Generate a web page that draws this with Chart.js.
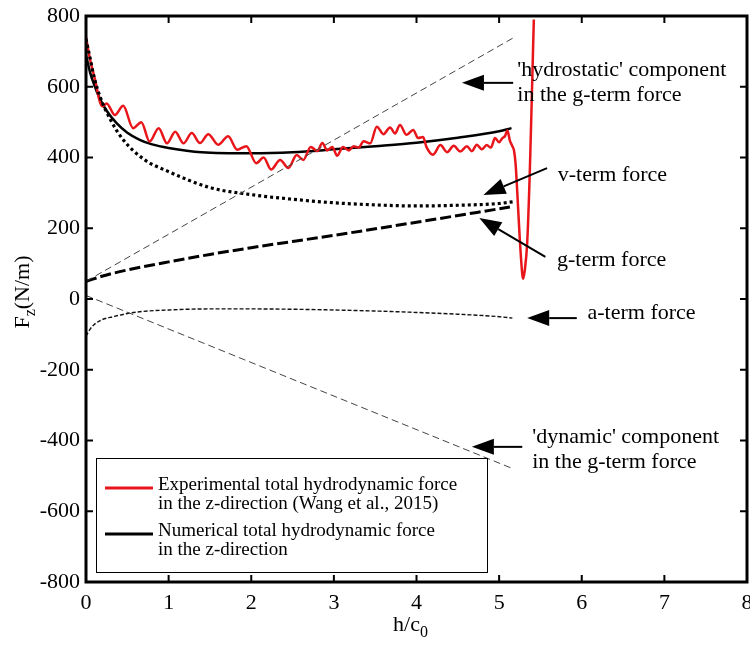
<!DOCTYPE html>
<html><head><meta charset="utf-8">
<script src="https://cdn.jsdelivr.net/npm/chart.js@4/dist/chart.umd.min.js"></script>
<style>html,body{margin:0;padding:0;background:#fff}canvas{display:block}</style>
</head><body>
<canvas id="c" width="750" height="645"></canvas>
<script>
// ---- data ----
const xTicks = [0,1,2,3,4,5,6,7,8];
const yTicks = [-800,-600,-400,-200,0,200,400,600,800];

const experimentalX = [0,0.05,0.11,0.17,0.2,0.25,0.35,0.45,0.57,0.67,0.77,0.88,0.98,1.08,1.18,1.28,1.38,1.48,1.6,1.72,1.83,1.94,2.06,2.15,2.24,2.35,2.45,2.55,2.63,2.72,2.8,2.86,2.92,2.98,3.04,3.11,3.18,3.24,3.3,3.36,3.44,3.52,3.6,3.68,3.74,3.8,3.88,3.96,4.02,4.08,4.12,4.2,4.29,4.37,4.45,4.53,4.61,4.67,4.73,4.79,4.85,4.9,4.95,5.0,5.04,5.07,5.1,5.13,5.16,5.18,5.2,5.22,5.25,5.28,5.29,5.31,5.34,5.37,5.39,5.41,5.42];
const experimentalY = [740,676,619,556,545,553,520,546,483,500,445,483,440,473,440,469,441,466,436,460,422,432,384,400,366,393,370,407,393,430,418,441,420,430,405,430,420,432,428,446,440,487,466,485,468,492,464,478,455,458,430,408,435,415,433,417,432,418,436,423,435,428,455,443,455,460,476,448,432,420,380,300,170,70,57,80,160,350,520,700,790];

const numericalX = [0,0.05,0.1,0.17,0.25,0.37,0.5,0.65,0.8,1,1.4,2,2.5,3,3.5,4,4.5,5,5.15];
const numericalY = [690,640,605,565,532,497,470,450,437,427,415,412,415,423,432,442,456,474,483];

const vTermX = [0,0.05,0.1,0.17,0.3,0.45,0.7,1,1.5,2,2.5,3,3.5,4,4.5,5,5.17];
const vTermY = [735,680,625,572,505,450,395,360,315,295,282,272,266,263,265,270,275];

const gTermX = [0,0.25,0.5,1,1.5,2,3,4,5.13];
const gTermY = [50,68,82,105,126,145,180,217,260];

const aTermX = [0,0.05,0.1,0.2,0.33,0.5,0.65,1,1.5,2,2.5,3,3.5,4,4.5,5,5.16];
const aTermY = [-105,-85,-72,-58,-50,-41,-36,-31,-28,-28,-29,-31,-34,-38,-43,-50,-54];

const hydrostaticX = [0,5.17];
const hydrostaticY = [50,738];
const dynamicX = [0,5.17];
const dynamicY = [10,-480];

const legendLabels = [
  ["Experimental total hydrodynamic force","in the z-direction (Wang et al., 2015)"],
  ["Numerical total hydrodynamic force","in the z-direction"]
];
const notes = [
  {lines:["'hydrostatic' component","in the g-term force"], text:[5.22,647], tail:[5.17,611], tip:[4.55,611]},
  {lines:["v-term force"], text:[5.71,351], tail:[5.58,370], tip:[4.81,294]},
  {lines:["g-term force"], text:[5.70,110], tail:[5.56,119], tip:[4.76,229]},
  {lines:["a-term force"], text:[6.07,-40], tail:[5.94,-54], tip:[5.34,-54]},
  {lines:["'dynamic' component","in the g-term force"], text:[5.40,-390], tail:[5.28,-418], tip:[4.67,-418]}
];

const pts = (xs, ys) => xs.map((x,i)=>({x:x, y:ys[i]}));
const SERIF = "'Liberation Serif','Times New Roman',serif";
const RED = '#e8161b';

function ds(label, xs, ys, color, width, dash) {
  return {label, data: pts(xs,ys), borderColor: color, borderWidth: width, borderDash: dash||[],
    pointRadius: 0, fill:false, cubicInterpolationMode:'monotone', borderCapStyle:'butt'};
}

const overlay = {
  id:'overlay',
  afterDraw(chart){
    const ctx = chart.ctx, a = chart.chartArea, xs = chart.scales.x, ys = chart.scales.y;
    ctx.save();
    // box
    ctx.strokeStyle='#000'; ctx.lineWidth=3;
    ctx.strokeRect(a.left, a.top, a.right-a.left, a.bottom-a.top);
    // inward ticks
    ctx.lineWidth=2;
    ctx.beginPath();
    xTicks.slice(1,-1).forEach(v=>{const p=xs.getPixelForValue(v);
      ctx.moveTo(p,a.bottom); ctx.lineTo(p,a.bottom-7); ctx.moveTo(p,a.top); ctx.lineTo(p,a.top+7);});
    yTicks.slice(1,-1).forEach(v=>{const p=ys.getPixelForValue(v);
      ctx.moveTo(a.left,p); ctx.lineTo(a.left+7,p); ctx.moveTo(a.right,p); ctx.lineTo(a.right-7,p);});
    ctx.stroke();

    // annotations
    ctx.fillStyle='#000'; ctx.font='22px '+SERIF; ctx.textAlign='left'; ctx.textBaseline='middle';
    notes.forEach(n=>{
      const tx=xs.getPixelForValue(n.text[0]), ty=ys.getPixelForValue(n.text[1]);
      n.lines.forEach((l,i)=>ctx.fillText(l, tx, ty+i*25));
      const x1=xs.getPixelForValue(n.tail[0]), y1=ys.getPixelForValue(n.tail[1]);
      const x2=xs.getPixelForValue(n.tip[0]), y2=ys.getPixelForValue(n.tip[1]);
      const ang=Math.atan2(y2-y1,x2-x1), L=22, W=8;
      const bx=x2-L*Math.cos(ang), by=y2-L*Math.sin(ang);
      ctx.lineWidth=2; ctx.beginPath(); ctx.moveTo(x1,y1); ctx.lineTo(bx,by); ctx.stroke();
      ctx.beginPath(); ctx.moveTo(x2,y2);
      ctx.lineTo(bx+W*Math.sin(ang), by-W*Math.cos(ang));
      ctx.lineTo(bx-W*Math.sin(ang), by+W*Math.cos(ang));
      ctx.closePath(); ctx.fill();
    });

    // legend
    const lx=a.left+10, ly=458, lw=391, lh=114;
    ctx.fillStyle='#fff'; ctx.fillRect(lx,ly,lw,lh);
    ctx.strokeStyle='#000'; ctx.lineWidth=1; ctx.strokeRect(lx+0.5,ly+0.5,lw,lh);
    const cols=[RED,'#000'];
    ctx.font='19px '+SERIF; ctx.textBaseline='middle';
    legendLabels.forEach((lab,i)=>{
      const base = ly + 27 + i*46;
      ctx.strokeStyle=cols[i]; ctx.lineWidth=3;
      ctx.beginPath(); ctx.moveTo(lx+9, base+3); ctx.lineTo(lx+57, base+3); ctx.stroke();
      ctx.fillStyle='#000';
      ctx.fillText(lab[0], lx+62, base);
      ctx.fillText(lab[1], lx+62, base+19);
    });

    // axis titles
    ctx.fillStyle='#000';
    ctx.font='22px '+SERIF; ctx.textBaseline='alphabetic'; ctx.textAlign='left';
    const xt1='h/c', wx=ctx.measureText(xt1).width;
    ctx.font='16px '+SERIF; const wsub=ctx.measureText('0').width;
    const cx=(a.left+a.right)/2 - 6, startX=cx-(wx+wsub)/2, base=631;
    ctx.font='22px '+SERIF; ctx.fillText(xt1,startX,base);
    ctx.font='16px '+SERIF; ctx.fillText('0',startX+wx,base+6);
    ctx.save();
    ctx.translate(29, 292); ctx.rotate(-Math.PI/2);
    ctx.font='22px '+SERIF; const wF=ctx.measureText('F').width, wR=ctx.measureText('(N/m)').width;
    ctx.font='16px '+SERIF; const wz=ctx.measureText('z').width;
    const sx=-(wF+wz+wR)/2;
    ctx.font='22px '+SERIF; ctx.fillText('F',sx,0);
    ctx.font='16px '+SERIF; ctx.fillText('z',sx+wF,6);
    ctx.font='22px '+SERIF; ctx.fillText('(N/m)',sx+wF+wz,0);
    ctx.restore();
    ctx.restore();
  }
};

new Chart(document.getElementById('c'), {
  type:'line',
  data:{datasets:[
    ds('hydrostatic', hydrostaticX, hydrostaticY, '#444', 1, [7,4]),
    ds('dynamic', dynamicX, dynamicY, '#444', 1, [7,4]),
    ds('a-term', aTermX, aTermY, '#111', 1.4, [4,2]),
    ds('g-term', gTermX, gTermY, '#000', 3, [11,4]),
    ds('v-term', vTermX, vTermY, '#000', 3.2, [3,3]),
    ds('Experimental', experimentalX, experimentalY, RED, 2.5),
    ds('Numerical', numericalX, numericalY, '#000', 2.5)
  ]},
  options:{
    responsive:false, animation:false, devicePixelRatio:1,
    layout:{padding:{top:16,right:3,left:0,bottom:0}},
    plugins:{legend:{display:false}, tooltip:{enabled:false}},
    scales:{
      x:{type:'linear', min:0, max:8, position:'bottom',
         afterBuildTicks:s=>{s.ticks=xTicks.map(v=>({value:v}));},
         afterFit:s=>{s.height=63; s.paddingLeft=0; s.paddingRight=0;},
         grid:{display:false, drawTicks:false}, border:{display:false},
         ticks:{color:'#000', padding:8, font:{family:SERIF,size:22}, maxRotation:0, autoSkip:false}},
      y:{type:'linear', min:-800, max:800,
         afterBuildTicks:s=>{s.ticks=yTicks.map(v=>({value:v}));},
         afterFit:s=>{s.width=86; s.paddingTop=0; s.paddingBottom=0;},
         grid:{display:false, drawTicks:false}, border:{display:false},
         ticks:{color:'#000', padding:6, font:{family:SERIF,size:22}, autoSkip:false}}
    }
  },
  plugins:[overlay]
});
</script>
</body></html>
